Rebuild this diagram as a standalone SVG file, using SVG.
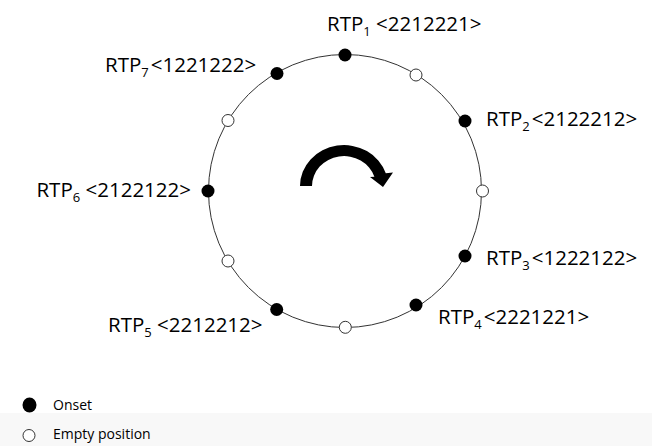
<svg xmlns="http://www.w3.org/2000/svg" width="652" height="446" viewBox="0 0 652 446">
<style>
.lbl{font-family:"Open Sans","Liberation Sans",sans-serif;font-size:20.5px;fill:#000}
.sub{font-size:13px}
.leg{font-family:"Open Sans","Liberation Sans",sans-serif;font-size:14px;fill:#000}
.on{fill:#000}
.off{fill:#fff;stroke:#333;stroke-width:1}
</style>
<rect x="0" y="0" width="652" height="446" fill="#fff"/>
<rect x="0" y="413" width="652" height="33" fill="#f8f8f8"/>
<g id="connectors">
<circle cx="345" cy="191" r="136.5" fill="none" stroke="#333" stroke-width="1"/>
<path id="rotation-arrow" d="M300,186 A44 41 0 0 1 385.8,173.3 L393,172.5 L383,187 L370,177 L374.4,176.7 A32 30 0 0 0 312,186 Z" fill="#000"/>
</g>
<g id="positions">
<circle class="on" cx="345" cy="55" r="6.5"/>
<circle class="off" cx="416" cy="75" r="6"/>
<circle class="on" cx="465" cy="121" r="6.5"/>
<circle class="off" cx="482.5" cy="191" r="6"/>
<circle class="on" cx="465" cy="256" r="6.5"/>
<circle class="on" cx="416" cy="305" r="6.5"/>
<circle class="off" cx="345.3" cy="327.3" r="6"/>
<circle class="on" cx="276.7" cy="309.5" r="6.5"/>
<circle class="off" cx="228" cy="261" r="6"/>
<circle class="on" cx="208" cy="191" r="6.5"/>
<circle class="off" cx="228" cy="120.5" r="6"/>
<circle class="on" cx="277" cy="73.5" r="6.5"/>
</g>
<g id="rtp1"><text class="lbl" x="327" y="30.5">RTP<tspan class="sub" dy="5">1</tspan><tspan dy="-5"> &lt;2212221&gt;</tspan></text></g>
<g id="rtp2"><text class="lbl" x="486" y="126">RTP<tspan class="sub" dy="5">2</tspan><tspan dy="-5" dx="2">&lt;2122212&gt;</tspan></text></g>
<g id="rtp3"><text class="lbl" x="486" y="265">RTP<tspan class="sub" dy="5">3</tspan><tspan dy="-5" dx="2">&lt;1222122&gt;</tspan></text></g>
<g id="rtp4"><text class="lbl" x="438" y="323.5">RTP<tspan class="sub" dy="5">4</tspan><tspan dy="-5" dx="2">&lt;2221221&gt;</tspan></text></g>
<g id="rtp5"><text class="lbl" x="108" y="331.5">RTP<tspan class="sub" dy="5">5</tspan><tspan dy="-5"> &lt;2212212&gt;</tspan></text></g>
<g id="rtp6"><text class="lbl" x="191" y="197" text-anchor="end">RTP<tspan class="sub" dy="5">6</tspan><tspan dy="-5"> &lt;2122122&gt;</tspan></text></g>
<g id="rtp7"><text class="lbl" x="105" y="71.5">RTP<tspan class="sub" dy="5">7</tspan><tspan dy="-5" dx="2">&lt;1221222&gt;</tspan></text></g>
<g id="legend-onset">
<ellipse cx="29.5" cy="405" rx="7" ry="7.5" fill="#000"/>
<text class="leg" x="53" y="409.5">Onset</text>
</g>
<g id="legend-empty">
<circle class="off" cx="29" cy="435.5" r="6"/>
<text class="leg" x="53" y="438.5">Empty position</text>
</g>
</svg>
